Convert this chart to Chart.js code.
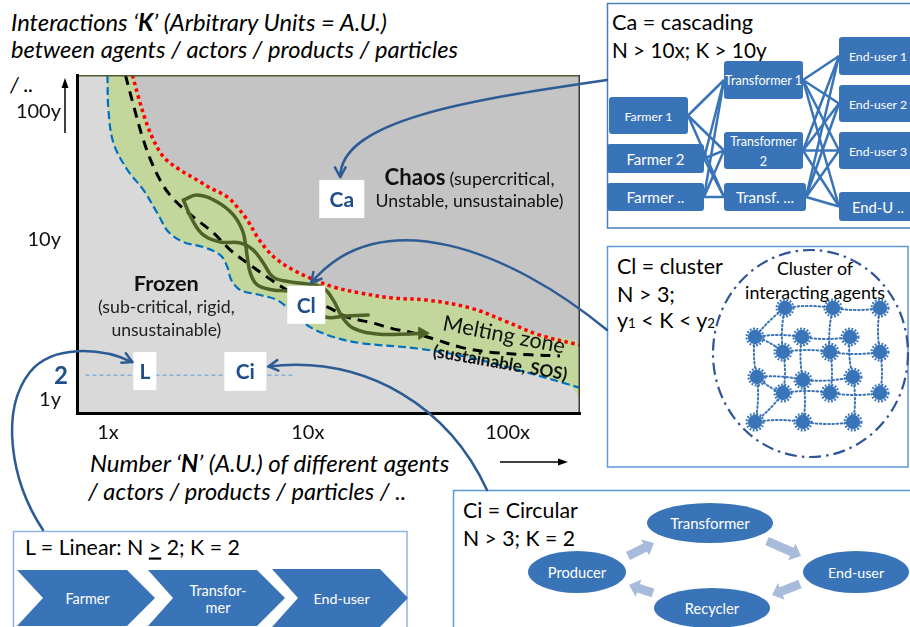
<!DOCTYPE html>
<html>
<head>
<meta charset="utf-8">
<title>Interactions K vs number N of agents</title>
<script src="https://cdn.jsdelivr.net/npm/chart.js@4.4.1/dist/chart.umd.min.js"></script>
<style>
  html, body { margin:0; padding:0; background:#fff; }
  #wrap { position:relative; width:910px; height:627px; overflow:hidden; }
  #panels, #chart { position:absolute; left:0; top:0; }
  #panels { z-index:1; }
  #chart { z-index:2; pointer-events:none; }
</style>
</head>
<body>
<div id="wrap">
  <svg id="panels" width="910" height="627" xmlns="http://www.w3.org/2000/svg"></svg>
  <canvas id="chart" width="910" height="627"></canvas>
</div>
<script>
const FONT = 'Lato, "Open Sans", "DejaVu Sans", sans-serif';

// ================= DATA (N in A.U., K position in A.U. 0-100) =================
const xTickValues = [1, 10, 100];
const xTickLabels = ['1x', '10x', '100x'];
const yTickValues = [4.0, 51.3, 89.2];
const yTickLabels = ['1y', '10y', '100y'];
const kTwoValue = 11.2;
const kTwoLabel = '2';
const kTwoLine = [[0.772, 11.2], [8.56, 11.2]];

const redBoundary = [[1.326,100],[1.42,93.5],[1.54,86.7],[1.67,81.4],[1.90,75.7],[2.30,71.9],[2.80,68.9],[3.25,66.6],[3.96,63.9],[4.44,60.9],[4.98,57.1],[5.59,52.1],[6.27,48.2],[7.04,45.3],[8.46,42.3],[10.29,39.9],[13.42,37.3],[18.3,35.5],[26.8,34.0],[39.6,33.4],[64.9,31.1],[97.2,27.2],[143.7,23.1],[230.4,20.1]];
const blueBoundary = [[0.994,100],[1.006,89.6],[1.065,79.9],[1.252,71.9],[1.504,66.0],[1.788,58.6],[2.006,53.6],[2.386,50.6],[3.0,49.1],[3.652,46.7],[3.958,43.2],[4.144,39.3],[4.597,36.4],[5.788,34.9],[7.04,33.4],[8.46,29.6],[10.29,25.4],[13.42,22.5],[18.3,20.7],[36.5,19.0],[65.7,16.3],[118,12.4],[198.5,8.6],[230.4,7.4]];
const meltTail = [[218,6.5],[230.4,4.4]];
const criticalLine = [[1.223,100],[1.341,91.1],[1.487,81.7],[1.65,74.3],[1.895,67.2],[2.174,62.7],[2.674,58.0],[3.37,53.3],[4.1,48.2],[4.98,44.4],[6.27,40.2],[8.17,35.8],[10.29,33.1],[12.52,31.4],[15.75,28.4],[21.27,26.6],[26.77,24.9],[33.7,23.7],[44.4,21.6],[57.9,19.5],[81.8,18.0],[129.6,17.2],[183,16.9]];
const strandUpper = [[2.386,63.0],[2.801,64.5],[3.528,62.4],[4.241,58.6],[4.704,54.1],[4.87,50.3],[4.98,46.2],[5.16,41.4],[5.59,37.9],[6.72,36.4],[8.17,35.8],[10.3,32.0],[12.24,28.4],[15.39,28.7],[20.07,29.0]];
const strandLower = [[2.386,63.0],[2.645,57.1],[3.0,52.7],[3.652,50.6],[4.597,50.3],[5.34,48.2],[5.99,44.4],[6.72,40.2],[8.17,38.8],[9.94,38.2],[11.96,37.0],[13.42,33.4],[14.88,28.4],[16.88,25.1],[22.26,23.4],[32.55,23.4],[37.4,23.6]];

const boxLabels = ['Ca', 'Cl', 'L', 'Ci'];
const boxN = [14.8, 9.83, 1.53, 4.87];
const boxK = [63.3, 32.0, 12.4, 12.3];

const chaosLabelN = 64.5,  chaosLabelK = [69.8, 62.7];
const frozenLabelN = 1.96, frozenLabelK = [38.5, 31.4, 24.6];
const meltLabelN = 96.0,   meltLabelK = 23.1;
const sosLabelN = 91.7,    sosLabelK = 14.8;

// ================= derived shapes =================
const chaosPoly = redBoundary.concat([[230.4, 100]]);
const greenPoly = blueBoundary.slice(0, -1).concat(meltTail, redBoundary.slice().reverse());

// ================= panels (SVG) =================
const NS = 'http://www.w3.org/2000/svg';
const svg = document.getElementById('panels');
function el(tag, attrs, parent) {
  const e = document.createElementNS(NS, tag);
  for (const k in attrs) e.setAttribute(k, attrs[k]);
  (parent || svg).appendChild(e);
  return e;
}
function svgText(spec) {
  const t = el('text', {x: spec.x, y: spec.y, 'font-family': FONT, 'font-size': spec.fs || 20,
    fill: spec.fill || '#000', 'dominant-baseline': 'central', 'text-anchor': spec.anchor || 'start'});
  if (spec.italic) t.setAttribute('font-style', 'italic');
  let shifted = 0;
  for (const [s, mod] of spec.parts) {
    const ts = el('tspan', {}, t);
    ts.textContent = s;
    if (mod === 'bold') ts.setAttribute('font-weight', 'bold');
    if (mod === 'u') ts.setAttribute('text-decoration', 'underline');
    if (mod === 'sub') { ts.setAttribute('font-size', '62%'); ts.setAttribute('dy', 3 - shifted); shifted = 3; }
    else if (shifted) { ts.setAttribute('dy', -shifted); shifted = 0; }
  }
  let size = spec.fs || 20;
  if (spec.w) {
    for (let k = 0; k < 3; k++) {
      const w = t.getBBox().width;
      if (!(w > 0)) break;
      size = size * spec.w / w;
      t.setAttribute('font-size', size.toFixed(2));
    }
  }
  return size;
}

const BLUE = '#3a74b8';
// panel frames
el('rect', {x:607.5, y:3.5, width:320, height:224.5, fill:'#fff', stroke:'#4a7ebb', 'stroke-width':1.5});
el('rect', {x:607.5, y:246.5, width:300.5, height:220.5, fill:'#fff', stroke:'#5b9bd5', 'stroke-width':1.5});
el('rect', {x:13.5, y:531.5, width:393.5, height:120, fill:'#fff', stroke:'#8fb4e3', 'stroke-width':1.5});
el('rect', {x:453.5, y:490.5, width:480, height:160, fill:'#fff', stroke:'#5b9bd5', 'stroke-width':1.5});

// axis titles
svgText({x:11, y:21.5, w:376, italic:true, parts:[['Interactions ‘'], ['K','bold'], ['’ (Arbitrary Units = A.U.)']]});
svgText({x:11, y:49, w:447, italic:true, parts:[['between agents / actors / products / particles']]});
svgText({x:10, y:83, fs:21, italic:true, parts:[['/ ..']]});
svgText({x:90, y:462, w:360, italic:true, parts:[['Number ‘'], ['N','bold'], ['’ (A.U.) of different agents']]});
svgText({x:88, y:490.5, w:319, italic:true, parts:[['/ actors / products / particles / ..']]});

// Ca panel
svgText({x:612, y:21.5, w:141, parts:[['Ca = cascading']]});
svgText({x:612, y:49.5, w:155, parts:[['N > 10x; K > 10y']]});
const farmers = [
  {x:609, y:97, w:79, h:37, lines:['Farmer 1'], tw:48},
  {x:607, y:144, w:97, h:29, lines:['Farmer 2'], tw:58},
  {x:607, y:183, w:97, h:28, lines:['Farmer ..'], tw:58}];
const transformers = [
  {x:724, y:61, w:79, h:38, lines:['Transformer 1'], tw:77},
  {x:724, y:132, w:79, h:37, lines:['Transformer', '2'], tw:67},
  {x:724, y:183, w:82, h:28, lines:['Transf. ...'], tw:58}];
const endUsers = [
  {x:839, y:37, w:78, h:38, lines:['End-user 1'], tw:58},
  {x:839, y:85, w:78, h:37, lines:['End-user 2'], tw:58},
  {x:839, y:132, w:78, h:37, lines:['End-user 3'], tw:58},
  {x:839, y:192, w:78, h:29, lines:['End-U ..'], tw:52}];
const links = el('g', {stroke: BLUE, 'stroke-width': 2.5, fill: 'none'});
for (const f of farmers) for (const t of transformers)
  el('line', {x1: f.x + f.w, y1: f.y + f.h / 2, x2: t.x, y2: t.y + t.h / 2}, links);
for (const t of transformers) for (const e of endUsers)
  el('line', {x1: t.x + t.w, y1: t.y + t.h / 2, x2: e.x, y2: e.y + e.h / 2}, links);
function nodeBox(n) {
  el('rect', {x: n.x, y: n.y, width: n.w, height: n.h, rx: 3, fill: BLUE});
  const cx = n.x + n.w / 2, cy = n.y + n.h / 2;
  const gap = 20;
  const y0 = cy - gap * (n.lines.length - 1) / 2;
  const size = svgText({x: cx, y: y0, w: n.tw, anchor: 'middle', fill: '#fff', parts: [[n.lines[0]]]});
  for (let i = 1; i < n.lines.length; i++)
    svgText({x: cx, y: y0 + gap * i, fs: size, anchor: 'middle', fill: '#fff', parts: [[n.lines[i]]]});
}
farmers.concat(transformers, endUsers).forEach(nodeBox);

// Cl panel
svgText({x:617, y:266, w:106, parts:[['Cl = cluster']]});
svgText({x:617, y:294, w:58, parts:[['N > 3;']]});
svgText({x:617, y:320, w:98, parts:[['y'], ['1','sub'], [' < K < y'], ['2','sub']]});
el('ellipse', {cx:810.5, cy:353.5, rx:97.5, ry:103.5, fill:'none', stroke:'#2f5597', 'stroke-width':2.2, 'stroke-dasharray':'12,5,2.5,5'});
svgText({x:815, y:268, w:76, anchor:'middle', parts:[['Cluster of']]});
svgText({x:815, y:292, w:140, anchor:'middle', parts:[['interacting agents']]});
const clusterDots = [[785,308],[833,308],[880,308],[755,337],[802,337],[850,337],[783,352],[830,352],[880,352],
                     [757,377],[803,380],[853,377],[783,393],[830,393],[880,393],[755,422],[803,422],[853,422]];
const clusterLinks = [[0,1],[1,2],[3,4],[4,5],[6,7],[7,8],[9,10],[10,11],[12,13],[13,14],[15,16],[16,17],
                      [0,6],[6,12],[1,7],[7,13],[2,8],[8,14],[3,9],[9,15],[4,10],[10,16],[5,11],[11,17],[0,3],[12,15],[3,6],[9,12]];
const cg = el('g', {stroke: BLUE, 'stroke-width': 2, fill: 'none', 'stroke-dasharray': '1.6,2.6', 'stroke-linecap': 'round'});
clusterLinks.forEach(([a, b], i) => {
  const [x1, y1] = clusterDots[a], [x2, y2] = clusterDots[b];
  const mx = (x1 + x2) / 2, my = (y1 + y2) / 2;
  const off = (i % 2 ? 4 : -4);
  const horiz = Math.abs(x2 - x1) > Math.abs(y2 - y1);
  el('path', {d: `M${x1},${y1} Q${horiz ? mx : mx + off},${horiz ? my + off : my} ${x2},${y2}`}, cg);
});
for (const [x, y] of clusterDots) {
  el('circle', {cx: x, cy: y, r: 7.2, fill: BLUE});
  el('circle', {cx: x, cy: y, r: 8.4, fill: 'none', stroke: BLUE, 'stroke-width': 2.2, 'stroke-dasharray': '1.8,1.6'});
}

// Ci panel
svgText({x:463, y:510, w:115, parts:[['Ci = Circular']]});
svgText({x:463, y:538, w:112, parts:[['N > 3; K = 2']]});
const cycleArrows = [[628,556,654,543],[767,541,801,556],[800,584,772,595],[653,593,629,585]];
for (const [x1, y1, x2, y2] of cycleArrows) {
  const dx = x2 - x1, dy = y2 - y1, L = Math.hypot(dx, dy), ux = dx / L, uy = dy / L, nx = -uy, ny = ux;
  const hl = 10, sw = 4.5, hw = 9;
  const bx = x2 - ux * hl, by = y2 - uy * hl;
  const p = [[x1 + nx*sw, y1 + ny*sw], [bx + nx*sw, by + ny*sw], [bx + nx*hw, by + ny*hw], [x2, y2],
             [bx - nx*hw, by - ny*hw], [bx - nx*sw, by - ny*sw], [x1 - nx*sw, y1 - ny*sw]];
  el('polygon', {points: p.map(q => q.join(',')).join(' '), fill: '#a9bbdb'});
}
const cycleNodes = [
  {cx:710, cy:523, rx:63, ry:20, t:'Transformer', tw:80},
  {cx:577, cy:572, rx:49, ry:21, t:'Producer', tw:59},
  {cx:856, cy:572, rx:53, ry:21, t:'End-user', tw:57},
  {cx:712, cy:608, rx:58, ry:20, t:'Recycler', tw:55}];
for (const n of cycleNodes) {
  el('ellipse', {cx: n.cx, cy: n.cy, rx: n.rx, ry: n.ry, fill: BLUE});
  svgText({x: n.cx, y: n.cy, w: n.tw, anchor: 'middle', fill: '#fff', parts: [[n.t]]});
}

// L panel
svgText({x:25, y:546.5, w:215, parts:[['L = Linear: N '], ['>','u'], [' 2; K = 2']]});
const chevrons = [
  {pts:[[17,570],[127,570],[155,598],[127,626],[17,626],[43,598]], lines:['Farmer'], cx:87.5, tw:45},
  {pts:[[148,570],[257,570],[285,598],[257,626],[148,626],[173,598]], lines:['Transfor-','mer'], cx:218, tw:57},
  {pts:[[272,569],[380,569],[408,598],[380,627],[272,627],[298,598]], lines:['End-user'], cx:341.5, tw:57}];
for (const c of chevrons) {
  el('polygon', {points: c.pts.map(q => q.join(',')).join(' '), fill: BLUE});
  const y0 = 598 - 8.5 * (c.lines.length - 1);
  const size = svgText({x: c.cx, y: y0, w: c.tw, anchor: 'middle', fill: '#fff', parts: [[c.lines[0]]]});
  for (let i = 1; i < c.lines.length; i++)
    svgText({x: c.cx, y: y0 + 17 * i, fs: size, anchor: 'middle', fill: '#fff', parts: [[c.lines[i]]]});
}

// ================= chart =================
const xy = a => a.map(([x, y]) => ({x, y}));
const lineDS = (label, data, extra) => Object.assign({label, data: xy(data), showLine: true, pointRadius: 0,
  fill: false, tension: 0.35, borderCapStyle: 'butt'}, extra);

function fitFont(ctx, text, weight, target) {
  ctx.font = `${weight} 20px ${FONT}`;
  return 20 * target / ctx.measureText(text).width;
}
const boxSizes = [[45, 38], [38, 38], [23, 38], [42, 39]];
function boxRects(chart) {
  const {x, y} = chart.scales;
  return boxLabels.map((lab, i) => {
    const cx = x.getPixelForValue(boxN[i]), cy = y.getPixelForValue(boxK[i]);
    const [w, h] = boxSizes[i];
    return {lab, cx, cy, l: cx - w / 2, r: cx + w / 2, t: cy - h / 2, b: cy + h / 2, w, h};
  });
}
function curveArrow(ctx, pts) {
  ctx.beginPath();
  ctx.moveTo(pts[0][0], pts[0][1]);
  for (let i = 1; i + 2 < pts.length; i += 3)
    ctx.bezierCurveTo(pts[i][0], pts[i][1], pts[i+1][0], pts[i+1][1], pts[i+2][0], pts[i+2][1]);
  ctx.stroke();
  const e = pts[pts.length - 1], c = pts[pts.length - 2];
  const ang = Math.atan2(e[1] - c[1], e[0] - c[0]), L = 11, sp = 0.5;
  ctx.beginPath();
  ctx.moveTo(e[0] - L * Math.cos(ang - sp), e[1] - L * Math.sin(ang - sp));
  ctx.lineTo(e[0], e[1]);
  ctx.lineTo(e[0] - L * Math.cos(ang + sp), e[1] - L * Math.sin(ang + sp));
  ctx.stroke();
}

const sketchPlugin = {
  id: 'sketch',
  beforeDatasetsDraw(chart) {
    const {ctx, chartArea: a} = chart;
    ctx.save();
    ctx.fillStyle = '#d9d9d9';
    ctx.fillRect(a.left, a.top, a.right - a.left, a.bottom - a.top);
    ctx.restore();
  },
  afterDatasetsDraw(chart) {
    const {ctx, chartArea: a, scales: {x, y}} = chart;
    ctx.save();
    // thin top / right frame
    ctx.lineWidth = 1.5;
    ctx.strokeStyle = '#4d5a33';
    ctx.beginPath(); ctx.moveTo(a.left, a.top + 0.75); ctx.lineTo(a.right, a.top + 0.75); ctx.stroke();
    ctx.strokeStyle = '#3a3a3a';
    ctx.beginPath(); ctx.moveTo(a.right - 0.75, a.top); ctx.lineTo(a.right - 0.75, a.bottom); ctx.stroke();

    // Chaos label
    ctx.fillStyle = '#111';
    const cxC = x.getPixelForValue(chaosLabelN);
    const sA = fitFont(ctx, 'Chaos', 'bold', 61), sB = fitFont(ctx, '(supercritical,', 'normal', 105);
    const lx = cxC - (61 + 4 + 105) / 2;
    const b1 = y.getPixelForValue(chaosLabelK[0]) + 0.36 * sA;
    ctx.textAlign = 'left'; ctx.textBaseline = 'alphabetic';
    ctx.font = `bold ${sA}px ${FONT}`; ctx.fillText('Chaos', lx, b1);
    ctx.font = `normal ${sB}px ${FONT}`; ctx.fillText('(supercritical,', lx + 65, b1);
    const sC = fitFont(ctx, 'Unstable, unsustainable)', 'normal', 188);
    ctx.textAlign = 'center';
    ctx.font = `normal ${sC}px ${FONT}`;
    ctx.fillText('Unstable, unsustainable)', cxC, y.getPixelForValue(chaosLabelK[1]) + 0.36 * sC);

    // Frozen label
    const cxF = x.getPixelForValue(frozenLabelN);
    const frozenLines = [['Frozen', 'bold', 65], ['(sub-critical, rigid,', 'normal', 137], ['unsustainable)', 'normal', 110]];
    frozenLines.forEach(([t, wgt, w], i) => {
      const s = fitFont(ctx, t, wgt, w);
      ctx.font = `${wgt} ${s}px ${FONT}`;
      ctx.fillStyle = i === 0 ? '#111' : '#222';
      ctx.fillText(t, cxF, y.getPixelForValue(frozenLabelK[i]) + 0.36 * s);
    });

    // Melting zone labels (rotated)
    ctx.fillStyle = '#111';
    ctx.textBaseline = 'middle';
    let s = fitFont(ctx, 'Melting zone', 'normal', 124);
    ctx.save();
    ctx.translate(x.getPixelForValue(meltLabelN), y.getPixelForValue(meltLabelK));
    ctx.rotate(11 * Math.PI / 180);
    ctx.font = `normal ${s}px ${FONT}`;
    ctx.fillText('Melting zone', 0, 0);
    ctx.restore();
    s = fitFont(ctx, '(sustainable, SOS)', 'bold', 136);
    ctx.save();
    ctx.translate(x.getPixelForValue(sosLabelN), y.getPixelForValue(sosLabelK));
    ctx.rotate(10 * Math.PI / 180);
    ctx.font = `bold ${s}px ${FONT}`;
    ctx.fillText('(sustainable, SOS)', 0, 0);
    ctx.restore();

    // white marker boxes
    for (const r of boxRects(chart)) {
      ctx.fillStyle = '#fff';
      ctx.fillRect(r.l, r.t, r.w, r.h);
      ctx.fillStyle = '#1f4e8a';
      ctx.font = `bold 21px ${FONT}`;
      ctx.textAlign = 'center'; ctx.textBaseline = 'middle';
      ctx.fillText(r.lab, r.cx, r.cy + 1);
    }
    ctx.restore();
  },
  afterDraw(chart) {
    const {ctx, chartArea: a, scales: {y}} = chart;
    const [ca, cl, lb, ci] = boxRects(chart);
    ctx.save();
    // K = 2 marker label
    ctx.fillStyle = '#1f4e8a';
    ctx.font = `bold 24px ${FONT}`;
    ctx.textAlign = 'right'; ctx.textBaseline = 'middle';
    ctx.fillText(kTwoLabel, a.left - 9, y.getPixelForValue(kTwoValue) + 1);

    // axis direction arrows
    ctx.strokeStyle = '#000'; ctx.fillStyle = '#000'; ctx.lineWidth = 1.5;
    const ax = a.left - 12;
    ctx.beginPath(); ctx.moveTo(ax, a.top + 58); ctx.lineTo(ax, a.top + 11); ctx.stroke();
    ctx.beginPath(); ctx.moveTo(ax, a.top + 3); ctx.lineTo(ax - 3.5, a.top + 13); ctx.lineTo(ax + 3.5, a.top + 13); ctx.closePath(); ctx.fill();
    const ay = a.bottom + 49;
    ctx.beginPath(); ctx.moveTo(500, ay); ctx.lineTo(560, ay); ctx.stroke();
    ctx.beginPath(); ctx.moveTo(568, ay); ctx.lineTo(558, ay - 3.5); ctx.lineTo(558, ay + 3.5); ctx.closePath(); ctx.fill();

    // connector arrows from panels to markers
    ctx.strokeStyle = '#2d5b93'; ctx.lineWidth = 2.5; ctx.lineCap = 'round'; ctx.lineJoin = 'round';
    curveArrow(ctx, [[607, 80], [470, 100], [340, 120], [ca.cx - 1.5, ca.t - 3]]);
    curveArrow(ctx, [[607, 330], [510, 250], [380, 200], [cl.cx + 5, cl.t - 3]]);
    curveArrow(ctx, [[43, 530], [10, 480], [0, 410], [30, 372], [52, 345], [100, 347], [lb.l - 1, lb.cy - 9]]);
    curveArrow(ctx, [[487, 490], [450, 410], [370, 355], [ci.r + 2, ci.cy - 5]]);
    ctx.restore();
  }
};

new Chart(document.getElementById('chart'), {
  type: 'scatter',
  data: {
    datasets: [
      lineDS('Chaos region', chaosPoly, {fill: 'shape', backgroundColor: '#c4c4c4', borderWidth: 0, borderColor: 'rgba(0,0,0,0)', order: 10}),
      lineDS('Melting zone', greenPoly, {fill: 'shape', backgroundColor: '#c3d69b', borderWidth: 0, borderColor: 'rgba(0,0,0,0)', order: 9}),
      lineDS('K = 2', kTwoLine, {borderColor: '#5b9bd5', borderWidth: 1, borderDash: [4, 3], tension: 0, order: 8}),
      lineDS('Frozen boundary', blueBoundary, {borderColor: '#0070c0', borderWidth: 2.2, borderDash: [8, 4], order: 7}),
      lineDS('Chaos boundary', redBoundary, {borderColor: '#ff0000', borderWidth: 3.5, borderDash: [3.5, 3.5], order: 6}),
      lineDS('Critical line', criticalLine, {borderColor: '#000', borderWidth: 3, borderDash: [10, 7], order: 5}),
      lineDS('Strand 1', strandUpper, {borderColor: '#4f6228', borderWidth: 3.5, borderCapStyle: 'round', tension: 0.4, order: 4}),
      lineDS('Strand 2', strandLower, {borderColor: '#4f6228', borderWidth: 3.5, borderCapStyle: 'round', tension: 0.4, order: 3,
        pointRadius: c => (c.dataIndex === strandLower.length - 1 ? 7 : 0), pointStyle: 'triangle', pointRotation: 90,
        pointBackgroundColor: '#4f6228', pointBorderColor: '#4f6228', pointBorderWidth: 1})
    ]
  },
  options: {
    responsive: false,
    animation: false,
    events: [],
    layout: {padding: {left: 0, top: 75, right: 330, bottom: 174}},
    plugins: {legend: {display: false}, tooltip: {enabled: false}},
    scales: {
      x: {
        type: 'logarithmic', min: 0.704, max: 230.4,
        afterBuildTicks: s => { s.ticks = xTickValues.map(v => ({value: v})); },
        afterFit: s => { s.height = 40; },
        grid: {display: false, drawTicks: false},
        border: {display: true, color: '#000', width: 3, z: 1},
        ticks: {autoSkip: false, maxRotation: 0, padding: 8, color: '#111', font: {family: FONT, size: 20},
                callback: (v, i) => xTickLabels[i]}
      },
      y: {
        type: 'linear', min: 0, max: 100,
        afterBuildTicks: s => { s.ticks = yTickValues.map(v => ({value: v})); },
        afterFit: s => { s.width = 77; },
        grid: {display: false, drawTicks: false},
        border: {display: true, color: '#000', width: 3, z: 1},
        ticks: {autoSkip: false, padding: 16, color: '#111', font: {family: FONT, size: 20},
                callback: (v, i) => yTickLabels[i]}
      }
    }
  },
  plugins: [sketchPlugin]
});
</script>
</body>
</html>
